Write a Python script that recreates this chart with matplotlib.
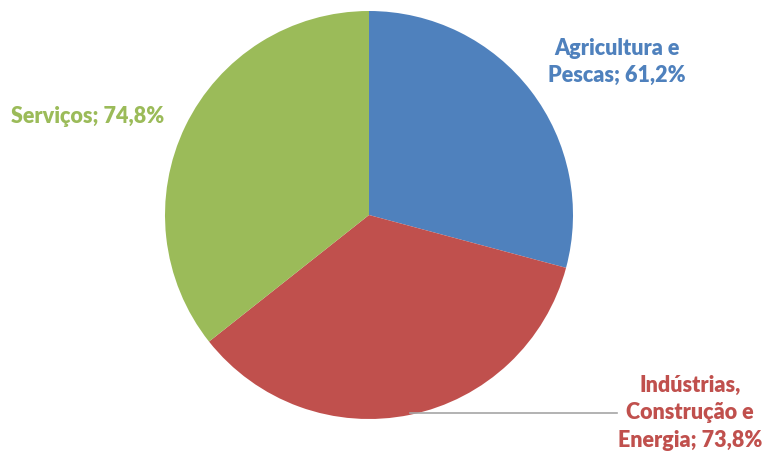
import numpy as np
import matplotlib.pyplot as plt

# sector shares (%)
sectors = ["Agricultura e\nPescas", "Indústrias,\nConstrução e\nEnergia", "Serviços"]
values = [61.2, 73.8, 74.8]
colors = ["#4F81BD", "#C0504D", "#9BBB59"]

plt.rcParams['font.family'] = ['Lato', 'DejaVu Sans']

fig = plt.figure(figsize=(7.64, 4.54), dpi=100)
ax = fig.add_axes([165 / 764, 35 / 454, 408 / 764, 408 / 454])

wedges, _ = ax.pie(values, colors=colors, startangle=90, counterclock=False,
                   radius=1.0, wedgeprops=dict(linewidth=0))
ax.set_xlim(-1, 1)
ax.set_ylim(-1, 1)
ax.set_aspect('equal')
ax.axis('off')


def label(text, val):
    return f"{text}; {val:.1f}%".replace(".", ",")


font = dict(fontsize=15.5, fontweight='heavy', ha='center', va='center',
            linespacing=1.38, clip_on=False)

ax.text(1.216, 0.75, label(sectors[0], values[0]), color=colors[0], **font)
ax.text(-1.377, 0.485, label(sectors[2], values[2]), color=colors[2], **font)
ax.text(1.574, -0.97, label(sectors[1], values[1]), color=colors[1], **font)

# leader line from the middle of the red wedge's rim to its label
w = wedges[1]
mid = np.deg2rad((w.theta1 + w.theta2) / 2)
x0, y0 = np.cos(mid), np.sin(mid)
ax.plot([x0, 1.216], [y0 + 0.01, y0 + 0.01], color="#A6A6A6", lw=1.2,
        clip_on=False)

fig.savefig("out.png", dpi=100)
